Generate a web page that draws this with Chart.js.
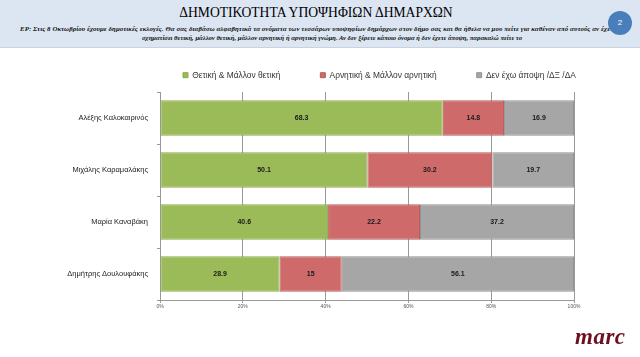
<!DOCTYPE html>
<html><head><meta charset="utf-8">
<script src="https://cdn.jsdelivr.net/npm/chart.js@4"></script>
<style>
html,body{margin:0;padding:0;background:#fff;width:640px;height:357px;overflow:hidden;position:relative;}
#hdr{position:absolute;left:0;top:0;width:640px;height:47px;background:#dce6f2;border-bottom:1px solid #c9d3df;}
#title{position:absolute;left:0;top:5px;width:632px;text-align:center;font-family:"Liberation Serif",serif;font-size:13.6px;color:#000;}
#sub1{position:absolute;left:20px;top:25px;width:600px;white-space:nowrap;overflow:hidden;font-family:"Liberation Serif",serif;font-style:italic;font-weight:bold;font-size:6.8px;letter-spacing:0.1px;color:#111;}
#sub2{position:absolute;left:0;top:33.5px;width:664px;text-align:center;white-space:nowrap;font-family:"Liberation Serif",serif;font-style:italic;font-weight:bold;font-size:6.6px;color:#111;}
#badge{position:absolute;left:608px;top:11px;width:24px;height:24px;border-radius:50%;background:#4a7ebb;color:#fff;font-family:"Liberation Sans",sans-serif;font-size:8px;line-height:24px;text-align:center;}
#logo{position:absolute;left:575px;top:324px;font-family:"Liberation Serif",serif;font-style:italic;font-weight:bold;font-size:23px;letter-spacing:0.5px;color:#6d1020;}
#c{position:absolute;left:0;top:0;}
</style></head>
<body>
<div id="hdr"></div>
<div id="title">ΔΗΜΟΤΙΚΟΤΗΤΑ ΥΠΟΨΗΦΙΩΝ ΔΗΜΑΡΧΩΝ</div>
<div id="sub1">ΕΡ: Στις 8 Οκτωβρίου έχουμε δημοτικές εκλογές. Θα σας διαβάσω αλφαβητικά τα ονόματα των τεσσάρων υποψηφίων δημάρχων στον δήμο σας και θα ήθελα να μου πείτε για καθέναν από αυτούς αν έχετε</div>
<div id="sub2">σχηματίσει θετική, μάλλον θετική, μάλλον αρνητική ή αρνητική γνώμη. Αν δεν ξέρετε κάποιο όνομα ή δεν έχετε άποψη, παρακαλώ πείτε το</div>
<div id="badge">2</div>
<canvas id="c" width="640" height="357"></canvas>
<div id="logo">marc</div>
<script>
const categories = ["Αλέξης Καλοκαιρινός", "Μιχάλης Καραμαλάκης", "Μαρία Καναβάκη", "Δημήτρης Δουλουφάκης"];
const seriesNames = ["Θετική & Μάλλον θετική", "Αρνητική & Μάλλον αρνητική", "Δεν έχω άποψη /ΔΞ /ΔΑ"];
const positive = [68.3, 50.1, 40.6, 28.9];
const negative = [14.8, 30.2, 22.2, 15];
const noOpinion = [16.9, 19.7, 37.2, 56.1];
const xTicks = [0, 20, 40, 60, 80, 100];

const colors = ["#9bbb59", "#ce6b6a", "#a6a6a6"];
const borders = ["#8aa84e", "#b85c5a", "#939393"];

const valueLabels = {
  id: "valueLabels",
  afterDatasetsDraw(chart) {
    const ctx = chart.ctx;
    ctx.save();
    ctx.font = "bold 7px 'Liberation Sans', Arial, sans-serif";
    ctx.fillStyle = "#1a1a1a";
    ctx.textAlign = "center";
    ctx.textBaseline = "middle";
    chart.data.datasets.forEach((ds, i) => {
      const meta = chart.getDatasetMeta(i);
      meta.data.forEach((bar, j) => {
        const cx = (bar.x + bar.base) / 2;
        ctx.fillText(String(ds.data[j]), cx, bar.y);
      });
    });
    ctx.restore();
  }
};

const LEG_PAD = 40;
const legendFit = {
  id: "legendFit",
  beforeInit(chart) {
    const orig = chart.legend.fit;
    chart.legend.fit = function () { orig.call(this); this.height = 92 - 31; };
  },
  afterLayout(chart) {
    const lg = chart.legend;
    lg.left = 183 - LEG_PAD;
    lg.right = 640;
  }
};

const chart = new Chart(document.getElementById("c"), {
  type: "bar",
  data: {
    labels: categories,
    datasets: [positive, negative, noOpinion].map((d, i) => ({
      label: seriesNames[i],
      data: d,
      backgroundColor: colors[i],
      borderColor: borders[i],
      borderWidth: 1,
      borderSkipped: false,
      barPercentage: 0.68,
      categoryPercentage: 1
    }))
  },
  options: {
    indexAxis: "y",
    responsive: false,
    animation: false,
    layout: { padding: { left: 0, right: 66, top: 31, bottom: 46 } },
    plugins: {
      tooltip: { enabled: false },
      legend: {
        position: "top",
        align: "start",
        labels: {
          boxWidth: 5, boxHeight: 5, padding: LEG_PAD,
          color: "#333",
          font: { family: "'Liberation Sans', Arial, sans-serif", size: 8.4 }
        }
      }
    },
    scales: {
      x: {
        stacked: true, min: 0, max: 100,
        afterBuildTicks(axis) { axis.ticks = xTicks.map(v => ({ value: v })); },
        ticks: {
          callback: v => v + "%",
          color: "#555",
          font: { family: "'Liberation Sans', Arial, sans-serif", size: 5 },
          padding: 1, maxRotation: 0
        },
        grid: { color: "#999", tickLength: 3, lineWidth: 1 },
        border: { color: "#999" }
      },
      y: {
        stacked: true,
        afterFit(axis) { axis.width = 160; },
        ticks: {
          color: "#222", padding: 9,
          font: { family: "'Liberation Sans', Arial, sans-serif", size: 7.5 }
        },
        grid: { drawOnChartArea: false, offset: true, tickLength: 3, color: "#999" },
        border: { color: "#999" }
      }
    }
  },
  plugins: [valueLabels, legendFit]
});
</script>
</body></html>
